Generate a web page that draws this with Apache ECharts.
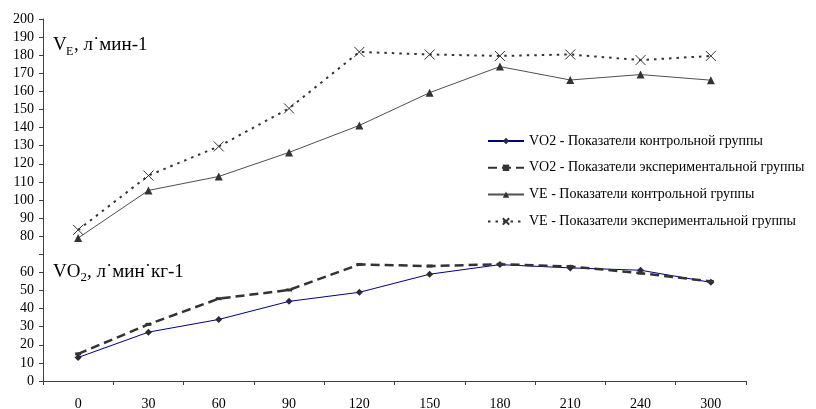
<!DOCTYPE html>
<html>
<head>
<meta charset="utf-8">
<script src="https://cdn.jsdelivr.net/npm/echarts@6/dist/echarts.min.js"></script>
<style>html,body{margin:0;padding:0;background:#fff}#c{width:816px;height:409px}</style>
</head>
<body>
<div id="c"></div>
<script>
const categories = ['0','30','60','90','120','150','180','210','240','300'];
const vo2Control = [13, 27, 34, 44, 49, 59, 64.3, 62.5, 61.2, 54.5];
const vo2Exp     = [15, 31.3, 45.5, 50.3, 64.4, 63.5, 64.5, 63.3, 59.6, 55];
const veControl  = [79, 105.3, 113, 126.3, 141.2, 159.3, 173.7, 166.3, 169.3, 166.2];
const veExp      = [83.5, 113.5, 129.6, 150.6, 181.8, 180.4, 179.6, 180.4, 177.3, 179.6];
const yTicksHidden = [70];
const seriesNames = [
  'VO2 - Показатели контрольной группы',
  'VO2 - Показатели экспериментальной группы',
  'VE - Показатели контрольной группы',
  'VE - Показатели экспериментальной группы'
];

const FONT = '"Liberation Serif", "Times New Roman", serif';
const chart = echarts.init(document.getElementById('c'), null, {renderer: 'canvas'});
const crossPath = 'path://M0,0L10,10M10,0L0,10';

chart.setOption({
  animation: false,
  backgroundColor: '#ffffff',
  grid: {left: 43, right: 70, top: 19, bottom: 28, containLabel: false, outerBoundsMode: 'none'},
  xAxis: {
    type: 'category',
    data: categories,
    boundaryGap: true,
    axisLine: {lineStyle: {color: '#404040', width: 1}},
    axisTick: {show: true, length: 4, inside: false, lineStyle: {color: '#404040'}, interval: 0},
    axisLabel: {color: '#000', fontFamily: FONT, fontSize: 14, margin: 16, interval: 0},
    splitLine: {show: false}
  },
  yAxis: {
    type: 'value',
    min: 0, max: 200, interval: 10,
    axisLine: {show: true, lineStyle: {color: '#404040', width: 1}},
    axisTick: {show: true, length: 4, lineStyle: {color: '#404040'}},
    axisLabel: {
      color: '#000', fontFamily: FONT, fontSize: 14, margin: 9,
      formatter: v => yTicksHidden.includes(v) ? '' : String(v)
    },
    splitLine: {show: false}
  },
  legend: {
    orient: 'vertical',
    left: 487, top: 134, padding: 0,
    itemWidth: 36, itemHeight: 8, itemGap: 12.8,
    textStyle: {color: '#000', fontFamily: FONT, fontSize: 14, lineHeight: 14},
    data: seriesNames
  },
  series: [
    {
      name: seriesNames[0], type: 'line', data: vo2Control,
      symbol: 'diamond', symbolSize: 7,
      lineStyle: {color: '#000080', width: 1},
      itemStyle: {color: '#2a2a3a'}
    },
    {
      name: seriesNames[1], type: 'line', data: vo2Exp,
      symbol: 'rect', symbolSize: [6, 3],
      lineStyle: {color: '#333333', width: 2.5, type: [9, 5]},
      itemStyle: {color: '#333333'}
    },
    {
      name: seriesNames[2], type: 'line', data: veControl,
      symbol: 'triangle', symbolSize: 8,
      lineStyle: {color: '#505050', width: 1},
      itemStyle: {color: '#333333'}
    },
    {
      name: seriesNames[3], type: 'line', data: veExp,
      symbol: crossPath, symbolSize: 10,
      lineStyle: {color: '#333333', width: 2, type: [2.5, 5]},
      itemStyle: {color: 'rgba(0,0,0,0)', borderColor: '#333333', borderWidth: 1}
    }
  ],
  graphic: [
    {type: 'text', x: 53, y: 45.5, style: {text: 'V', font: '19px ' + FONT, fill: '#000', verticalAlign: 'middle', align: 'left'}},
    {type: 'text', x: 66, y: 51.5, style: {text: 'E', font: '12px ' + FONT, fill: '#000', verticalAlign: 'middle', align: 'left'}},
    {type: 'text', x: 74, y: 45.5, style: {text: ', л˙мин-1', font: '19px ' + FONT, fill: '#000', verticalAlign: 'middle', align: 'left'}},
    {type: 'text', x: 53, y: 272.5, style: {text: 'VO', font: '19px ' + FONT, fill: '#000', verticalAlign: 'middle', align: 'left'}},
    {type: 'text', x: 80.5, y: 278, style: {text: '2', font: '13px ' + FONT, fill: '#000', verticalAlign: 'middle', align: 'left'}},
    {type: 'text', x: 87, y: 272.5, style: {text: ', л˙мин˙кг-1', font: '19px ' + FONT, fill: '#000', verticalAlign: 'middle', align: 'left'}}
  ]
});
</script>
</body>
</html>
